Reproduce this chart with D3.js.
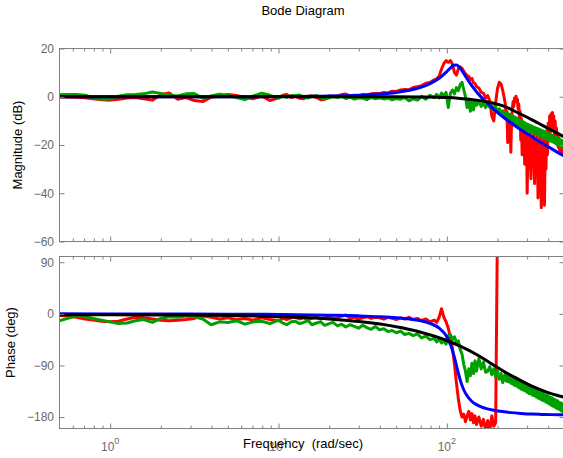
<!DOCTYPE html>
<html>
<head>
<meta charset="utf-8">
<script src="https://cdn.jsdelivr.net/npm/d3@7"></script>
<style>
  html, body { margin: 0; padding: 0; background: #fff; }
  svg { display: block; font-family: "Liberation Sans", Arial, Helvetica, sans-serif; }
</style>
</head>
<body>
<svg id="chart" width="563" height="458"></svg>
<script>
// ---- measured frequency response (rad/sec) ----
const freqMeas = [
  0.5, 0.56, 0.63, 0.71, 0.79, 0.89, 1.0, 1.12, 1.26, 1.41,
  1.58, 1.78, 2.0, 2.24, 2.51, 2.82, 3.16, 3.55, 3.98, 4.47,
  5.01, 5.62, 6.31, 7.08, 7.94, 8.91, 10.0, 10.6, 11.2, 11.9,
  12.6, 13.3, 14.1, 15.0, 15.8, 16.8, 17.8, 18.8, 20.0, 21.1,
  22.4, 23.7, 25.1, 26.6, 28.2, 29.9, 31.6, 33.5, 35.5, 37.6,
  39.8, 42.2, 44.7, 47.3, 50.1, 53.1, 56.2, 59.6, 63.1, 66.8,
  70.8, 75.0, 79.4, 84.1, 87, 90, 93, 96, 99, 102,
  105, 108, 111, 114, 117, 120, 123, 126, 129, 132,
  135, 138, 141, 144, 147, 150, 155, 160, 165, 170,
  175, 180, 185, 190, 195, 200, 205, 210, 215, 220,
  222.5, 225, 227.5, 230, 232.5, 235, 237.5, 240, 242.5, 245,
  247.5, 250, 252.5, 255, 257.5, 260, 262.5, 265, 267.5, 270,
  272.5, 275, 277.5, 280, 282.5, 285, 287.5, 290, 292.5, 295,
  297.5, 300, 304, 308, 312, 316, 320, 324, 328, 332,
  336, 340, 344, 348, 352, 356, 360, 364, 368, 372,
  376, 380, 384, 388, 392, 396, 400, 404, 408, 412,
  416, 420, 424, 428, 432, 436, 440, 444, 448, 452,
  456, 460, 464, 468, 472, 476, 480, 484, 488, 492,
  496, 500
];

// run 1 (red): magnitude in dB
const redMag = [
  0.0, -0.1, -0.2, -0.4, -0.8, -1.2, -1.4, -1.0, -0.5, -0.3,
  -0.8, -1.4, 0.8, 1.6, -1.0, -0.3, -1.6, -2.0, -0.2, 0.4,
  0.9, 0.5, -0.3, -0.8, 0.3, -1.6, -0.4, 0.6, 0.9, -0.3,
  0.3, -0.6, -0.8, 0.2, 0.4, -0.3, -1.2, -1.0, 0.3, 0.2,
  0.3, 0.9, 1.1, 0.4, 0.6, 0.3, 0.9, 0.7, 1.2, 1.3,
  1.3, 1.8, 1.6, 2.3, 2.2, 2.8, 3.0, 2.9, 3.8, 4.2,
  4.6, 5.6, 5.9, 7.0, 7.4, 8.5, 11.5, 13.8, 15.0, 14.2,
  15.0, 13.5, 10.0, 9.0, 11.5, 12.4, 11.8, 10.6, 9.5, 8.8,
  8.4, 7.2, 7.6, 5.8, 5.5, 4.2, 3.6, 1.8, 1.5, -0.5,
  0.5, -1.8, -8.0, -10.0, -2.5, 3.5, 6.0, 5.2, 2.5, -1.0,
  -3, -9, -6, -19, -10, -15, -8, -23, -9, -5,
  -2, -4, -0.5, -1.5, 0.2, -2, -1, -5, -3, -10,
  -6, -18, -9, -24, -11, -19, -13, -28, -12, -22,
  -15, -40, -17, -30, -14, -34, -18, -27, -15, -36,
  -19, -31, -14, -42, -20, -33, -16, -46, -22, -35,
  -17, -45, -21, -30, -14, -24, -11, -18, -8, -15,
  -7, -12, -6.5, -14, -8, -16, -10, -18, -13, -20,
  -15, -21, -17, -23, -18, -22, -19, -24, -20, -23,
  -21, -22
];

// run 2 (green): magnitude in dB
const greenMag = [
  0.8, 0.9, 0.9, 0.6, -0.4, -1.0, -0.9, 0.2, 0.8, 0.9,
  1.2, 2.0, 1.4, 0.6, 0.3, 1.2, 1.3, -0.6, 0.3, 1.0,
  0.5, -0.3, -1.2, 0.3, 1.5, 0.6, -0.6, 0.4, -0.2, 0.5,
  0.4, 0.7, -0.1, -0.5, 0.2, 0.5, -0.3, -1.0, -0.4, 0.1,
  -0.3, 0.2, -0.7, -0.2, -1.0, -0.4, -0.6, -1.2, -0.3, -0.8,
  -0.4, -0.9, -0.5, -1.3, -0.7, -1.0, -0.3, -1.7, -0.8, -1.4,
  0.2, -1.0, 0.6, -0.4, 1.0, -0.5, 1.5, 0.3, 1.8, -4.5,
  1.5, 2.8, 1.2, 3.8, 2.5, 5.0, 6.0, 3.0, 0.0, -4.5,
  -1.0, -6.0, -2.0, -5.5, -1.5, -3.5, -2.0, -4.0, -2.5, -4.5,
  -3.0, -4.5, -3.5, -5.5, -4.2, -6.0, -5.0, -7.0, -5.8, -7.5,
  -6.5, -9.2, -6.8, -9.5, -7.1, -9.8, -7.4, -10.1, -7.8, -10.5,
  -8.1, -10.8, -8.4, -11.1, -8.7, -11.4, -9.1, -11.7, -9.4, -12.1,
  -9.7, -12.4, -10.0, -12.7, -10.3, -13.0, -10.6, -13.3, -10.9, -13.6,
  -11.2, -13.9, -11.5, -14.2, -11.8, -14.5, -12.1, -14.8, -12.5, -15.2,
  -12.8, -15.5, -13.1, -15.8, -13.4, -16.1, -13.7, -16.4, -14.0, -16.8,
  -14.3, -17.1, -14.6, -17.4, -14.9, -17.7, -15.2, -18.0, -15.5, -18.3,
  -15.8, -18.6, -16.1, -18.8, -16.4, -19.1, -16.7, -19.4, -16.9, -19.7,
  -17.2, -19.9, -17.5, -20.2, -17.8, -20.5, -18.0, -20.8, -18.3, -21.0,
  -18.6, -21.2
];

// run 1 (red): phase in degrees (wraps past +180 above 200 rad/sec)
const redPhase = [
  -3, -4, -6, -9, -11, -13, -14, -13, -9, -6,
  -7, -9, -11, -12, -11, -10, -8, -4, -6, -9,
  -7, -10, -8, -11, -7, -10, -12, -8, -10, -7,
  -6, -9, -7, -10, -8, -6, -9, -7, -5, -8,
  -7, -4, -2, -8, -6, -9, -7, -5, -8, -6,
  -7, -9, -6, -8, -10, -7, -9, -6, -10, -8,
  -12, -9, -14, -11, -15, -6, 9, -6, -14, -25,
  -42, -60, -88, -120, -148, -168, -180, -175, -188, -178,
  -170, -185, -174, -190, -178, -193, -180, -196, -184, -203,
  -186, -204, -178, -196, -190, 165, 163, 161, 162, 158,
  157, 156, 156, 155, 154, 154, 153, 152, 152, 151,
  150, 150, 149, 148, 148, 147, 146, 146, 145, 144,
  144, 143, 142, 142, 141, 140, 140, 139, 138, 138,
  137, 136, 136, 135, 134, 134, 133, 132, 132, 131,
  130, 130, 129, 128, 128, 127, 126, 126, 125, 124,
  124, 123, 123, 122, 122, 121, 121, 120, 120, 119,
  119, 118, 118, 117, 117, 116, 116, 115, 115, 114,
  114, 113, 113, 112, 112, 111, 111, 110, 110, 109,
  109, 108
];

// run 2 (green): phase in degrees
const greenPhase = [
  -12, -8, -4, -5, -8, -11, -14, -17, -16, -12,
  -10, -15, -8, -5, -6, -4, -5, -9, -19, -14,
  -15, -12, -18, -14, -13, -17, -11, -16, -19, -14,
  -13, -17, -15, -12, -19, -16, -14, -20, -17, -15,
  -21, -18, -23, -19, -22, -25, -20, -24, -27, -22,
  -28, -26, -31, -29, -33, -30, -36, -34, -38, -35,
  -42, -39, -45, -43, -49, -44, -51, -47, -53, -38,
  -36, -45, -40, -50, -47, -62, -70, -88, -100, -118,
  -96, -108, -86, -104, -82, -100, -78, -96, -84, -102,
  -100, -92, -106, -96, -110, -100, -114, -104, -120, -108,
  -104, -117, -105, -118, -106, -119, -107, -121, -109, -122,
  -110, -124, -111, -125, -112, -126, -114, -128, -115, -129,
  -118, -131, -119, -132, -120, -133, -121, -134, -122, -135,
  -124, -137, -125, -139, -127, -140, -128, -142, -130, -143,
  -132, -145, -133, -147, -135, -148, -136, -150, -138, -151,
  -139, -152, -141, -154, -142, -155, -143, -157, -145, -158,
  -146, -160, -147, -161, -149, -162, -150, -164, -151, -165,
  -152, -166, -154, -167, -155, -169, -156, -170, -157, -171,
  -158, -172
];

// ---- resonant fit (blue) ----
const freqFit = [0.5, 1, 2, 5, 10, 20, 30, 40, 50, 60, 70, 80, 90, 100, 106, 110, 114, 118,
  122, 126, 131, 140, 150, 160, 172, 190, 207, 240, 275, 320, 363, 420, 472, 500];
const blueMag = [0, 0, 0, 0.02, 0.07, 0.27, 0.61, 1.11, 1.79, 2.71, 3.91, 5.51, 7.64, 10.44,
  12.2, 13.03, 13.15, 12.45, 11.16, 9.65, 7.78, 4.8, 2.09, -0.15, -2.4, -5.18, -7.35, -10.79,
  -13.71, -16.6, -19.0, -21.6, -23.7, -24.6];
const bluePhase = [-0.06, -0.11, -0.22, -0.55, -1.11, -2.28, -3.56, -5.03, -6.81, -9.1, -12.2,
  -16.9, -24.8, -39.9, -56.5, -72.0, -90, -107.4, -121.7, -132.4, -141.7, -152.0, -158.4,
  -162.3, -165.4, -168.3, -170.1, -172.3, -173.7, -174.9, -175.4, -175.8, -176.0, -176.2];

// ---- well-damped model (black) ----
const freqModel = [0.5, 1, 2, 5, 10, 20, 30, 50, 70, 100, 120, 150, 170, 190, 220, 250, 300,
  350, 400, 450, 500];
const blackMag = [0, 0, 0, 0, 0, 0, -0.01, -0.03, -0.1, -0.35, -0.7, -1.4, -2.0, -2.7, -4.0,
  -5.8, -8.5, -11.0, -13.1, -15.0, -16.7];
const blackPhase = [-1.5, -1.7, -2, -3, -5, -9, -13.5, -22.5, -32, -46.5, -56.5, -71, -80.5,
  -89.5, -101, -110, -122, -131, -137.5, -142, -145.5];

// ---- ticks ----
const freqMajor = [1, 10, 100];
const freqMinor = [0.6, 0.7, 0.8, 0.9, 2, 3, 4, 5, 6, 7, 8, 9, 20, 30, 40, 50, 60, 70, 80, 90,
  200, 300, 400];
const magTicks = [20, 0, -20, -40, -60];
const phaseTicks = [90, 0, -90, -180];

// ---- layout ----
const svg = d3.select("#chart");
const axisColor = "#808080";
const labelColor = "#6a6a6a";
const plotLeft = 59.5, plotRight = 564.5;

const x = d3.scaleLog().domain([0.5, 500]).range([plotLeft, plotRight]);
const yMag = d3.scaleLinear().domain([-60, 20]).range([241.5, 48.5]);
const yPh = d3.scaleLinear().domain([-200, 100]).range([428.5, 256.5]);

function panel(id, y, yTicks, series) {
  const [yb, yt] = y.range();
  const g = svg.append("g");

  g.append("clipPath").attr("id", id)
    .append("rect").attr("x", plotLeft).attr("y", yt)
    .attr("width", plotRight - plotLeft).attr("height", yb - yt);

  const lines = g.append("g").attr("clip-path", `url(#${id})`);
  series.forEach(s => {
    const pts = s.f.map((f, i) => [f, s.v[i]]);
    const line = d3.line()
      .x(d => x(d[0]))
      .y(d => y(d[1]))
      .curve(s.smooth ? d3.curveMonotoneX : d3.curveLinear);
    lines.append("path")
      .attr("d", line(pts))
      .attr("fill", "none")
      .attr("stroke", s.color)
      .attr("stroke-width", 3)
      .attr("stroke-linejoin", "round")
      .attr("stroke-linecap", "butt");
  });

  const tidy = sel => {
    sel.select(".domain").remove();
    sel.selectAll("line").attr("stroke", axisColor);
  };

  // frequency ticks on the bottom and top edges, pointing inward
  [[d3.axisBottom, yb], [d3.axisTop, yt]].forEach(([mk, yy]) => {
    g.append("g").attr("transform", `translate(0,${yy})`)
      .call(mk(x).tickValues(freqMajor).tickSize(-5).tickFormat(""))
      .call(tidy);
    g.append("g").attr("transform", `translate(0,${yy})`)
      .call(mk(x).tickValues(freqMinor).tickSize(-3).tickFormat(""))
      .call(tidy);
  });

  // value ticks on the left (labelled) and right edges
  const left = g.append("g").attr("transform", `translate(${plotLeft},0)`)
    .call(d3.axisLeft(y).tickValues(yTicks).tickSize(-5).tickPadding(5.5))
    .call(tidy);
  left.selectAll("text")
    .attr("fill", labelColor)
    .attr("font-size", 12)
    .attr("font-family", "'Liberation Sans', Arial, sans-serif");
  g.append("g").attr("transform", `translate(${plotRight},0)`)
    .call(d3.axisRight(y).tickValues(yTicks).tickSize(-5).tickFormat(""))
    .call(tidy);

  // frame
  g.append("rect")
    .attr("x", plotLeft).attr("y", yt)
    .attr("width", plotRight - plotLeft).attr("height", yb - yt)
    .attr("fill", "none").attr("stroke", axisColor).attr("stroke-width", 1);
}

panel("clipMag", yMag, magTicks, [
  { f: freqMeas, v: redMag, color: "#ff0000" },
  { f: freqMeas, v: greenMag, color: "#00a000" },
  { f: freqFit, v: blueMag, color: "#0000ff", smooth: true },
  { f: freqModel, v: blackMag, color: "#000000", smooth: true }
]);

panel("clipPh", yPh, phaseTicks, [
  { f: freqMeas, v: redPhase, color: "#ff0000" },
  { f: freqMeas, v: greenPhase, color: "#00a000" },
  { f: freqFit, v: bluePhase, color: "#0000ff", smooth: true },
  { f: freqModel, v: blackPhase, color: "#000000", smooth: true }
]);

// decade labels 10^k under the phase panel
freqMajor.forEach(f => {
  const t = svg.append("text")
    .attr("x", x(f)).attr("y", 450.5)
    .attr("text-anchor", "middle")
    .attr("fill", labelColor)
    .attr("font-size", 12);
  t.append("tspan").text("10");
  t.append("tspan").attr("dy", -7).attr("font-size", 9).text(String(Math.round(Math.log10(f))));
});

// titles
svg.append("text")
  .attr("x", 303).attr("y", 14.5)
  .attr("text-anchor", "middle")
  .attr("font-size", 13).attr("fill", "#000")
  .text("Bode Diagram");

svg.append("text")
  .attr("x", 303).attr("y", 447.5)
  .attr("text-anchor", "middle")
  .attr("font-size", 13).attr("fill", "#000")
  .style("white-space", "pre")
  .text("Frequency  (rad/sec)");

svg.append("text")
  .attr("transform", `translate(21.6,${(yMag.range()[0] + yMag.range()[1]) / 2}) rotate(-90)`)
  .attr("text-anchor", "middle")
  .attr("font-size", 13).attr("fill", "#000")
  .text("Magnitude (dB)");

svg.append("text")
  .attr("transform", `translate(14.5,${(yPh.range()[0] + yPh.range()[1]) / 2}) rotate(-90)`)
  .attr("text-anchor", "middle")
  .attr("font-size", 13).attr("fill", "#000")
  .text("Phase (deg)");
</script>
</body>
</html>
